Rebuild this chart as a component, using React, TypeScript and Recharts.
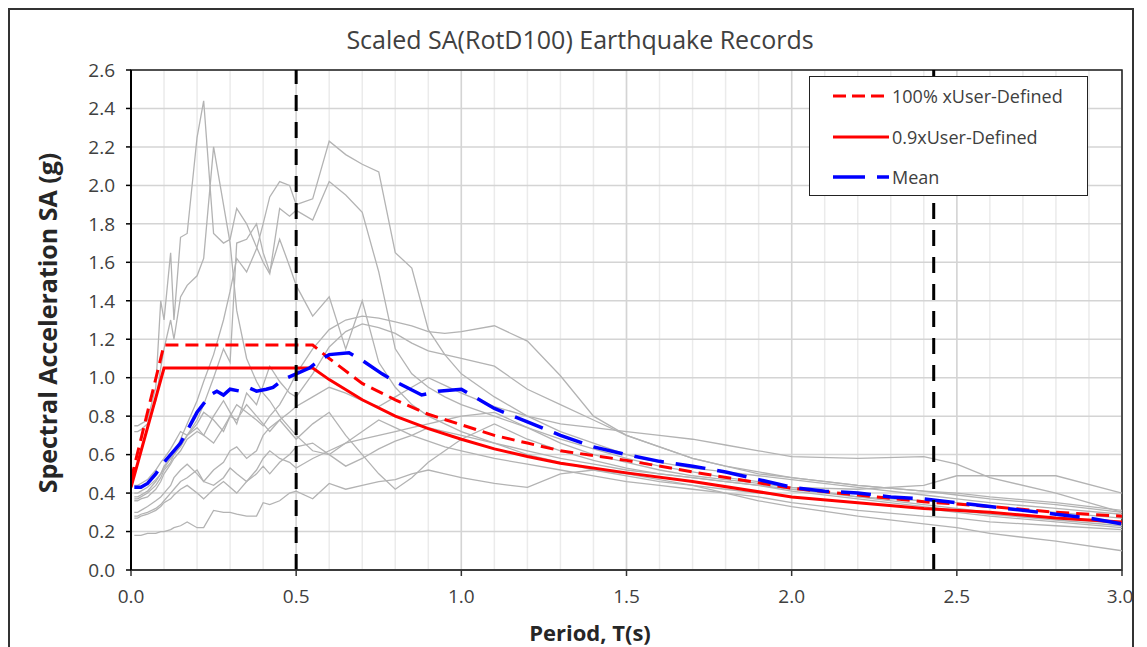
import React from 'react';
import { LineChart, Line, XAxis, YAxis, CartesianGrid, ReferenceLine, ReferenceArea, Legend } from 'recharts';

// Periods (s) shared by the scaled records
const periods = [
  0.01, 0.02, 0.03, 0.05, 0.075, 0.09, 0.1, 0.12, 0.13, 0.15,
  0.17, 0.2, 0.22, 0.25, 0.28, 0.3, 0.32, 0.35, 0.38, 0.4,
  0.42, 0.45, 0.48, 0.5, 0.55, 0.6, 0.65, 0.7, 0.75, 0.8,
  0.85, 0.9, 0.95, 1.0, 1.1, 1.2, 1.3, 1.4, 1.5, 1.6,
  1.7, 1.8, 1.9, 2.0, 2.2, 2.4, 2.5, 2.6, 2.8, 3.0,
];

// Scaled SA(RotD100) of each record (g)
const rec01 = [
  0.75, 0.75, 0.76, 0.78, 0.95, 1.40, 1.30, 1.65, 1.30, 1.73,
  1.75, 2.25, 2.44, 1.75, 1.70, 1.72, 1.88, 1.80, 1.68, 1.60,
  1.54, 1.88, 1.84, 1.87, 1.82, 2.02, 1.95, 1.86, 1.55, 1.15,
  1.02, 0.95, 0.90, 0.86, 0.80, 0.74, 0.68, 0.63, 0.58, 0.54,
  0.51, 0.48, 0.46, 0.43, 0.38, 0.34, 0.32, 0.30, 0.27, 0.24,
];
const rec02 = [
  0.72, 0.72, 0.73, 0.76, 0.88, 1.05, 1.15, 1.30, 1.20, 1.42,
  1.48, 1.53, 1.62, 2.20, 1.90, 1.70, 1.35, 1.10, 0.98, 0.92,
  0.88, 0.80, 0.74, 0.70, 0.62, 0.60, 0.66, 0.72, 0.78, 0.74,
  0.70, 0.67, 0.64, 0.62, 0.58, 0.55, 0.52, 0.49, 0.46, 0.44,
  0.42, 0.40, 0.38, 0.35, 0.31, 0.28, 0.27, 0.25, 0.23, 0.21,
];
const rec03 = [
  0.38, 0.38, 0.39, 0.41, 0.46, 0.50, 0.53, 0.58, 0.60, 0.68,
  0.76, 0.88, 0.98, 1.12, 1.30, 1.45, 1.62, 1.55, 1.67, 1.80,
  1.94, 2.02, 2.00, 1.90, 1.93, 2.23, 2.16, 2.11, 2.07, 1.65,
  1.57, 1.25, 1.12, 1.02, 0.90, 0.80, 0.72, 0.66, 0.60, 0.56,
  0.53, 0.51, 0.49, 0.47, 0.43, 0.39, 0.37, 0.35, 0.32, 0.29,
];
const rec04 = [
  0.37, 0.37, 0.38, 0.40, 0.44, 0.48, 0.52, 0.56, 0.60, 0.64,
  0.70, 0.78, 0.86, 1.00, 1.15, 1.08, 1.70, 1.72, 1.80, 1.65,
  1.55, 1.72, 1.58, 1.48, 1.32, 1.42, 1.15, 1.40, 1.08, 0.95,
  0.86, 0.80, 0.76, 0.72, 0.66, 0.60, 0.56, 0.52, 0.49, 0.46,
  0.44, 0.42, 0.40, 0.38, 0.35, 0.32, 0.30, 0.28, 0.25, 0.22,
];
const rec05 = [
  0.44, 0.44, 0.45, 0.47, 0.52, 0.56, 0.58, 0.63, 0.66, 0.72,
  0.70, 0.76, 0.82, 0.78, 0.72, 0.80, 0.86, 0.82, 0.78, 0.75,
  0.80, 0.86, 0.95, 1.02, 1.15, 1.25, 1.30, 1.32, 1.31, 1.29,
  1.27, 1.24, 1.23, 1.24, 1.27, 1.19, 1.01, 0.80, 0.70, 0.64,
  0.58, 0.54, 0.51, 0.48, 0.44, 0.41, 0.39, 0.37, 0.34, 0.30,
];
const rec06 = [
  0.36, 0.36, 0.37, 0.38, 0.42, 0.46, 0.50, 0.55, 0.58, 0.62,
  0.68, 0.72, 0.70, 0.80, 0.88, 0.82, 0.76, 0.92, 0.86, 0.96,
  1.06, 0.98, 0.92, 0.90, 1.02, 1.16, 1.24, 1.28, 1.26, 1.23,
  1.18, 1.14, 1.12, 1.10, 1.06, 0.94, 0.86, 0.78, 0.70, 0.64,
  0.58, 0.54, 0.50, 0.48, 0.44, 0.41, 0.40, 0.38, 0.35, 0.31,
];
const rec07 = [
  0.30, 0.30, 0.31, 0.33, 0.36, 0.38, 0.40, 0.44, 0.48, 0.52,
  0.55, 0.50, 0.46, 0.52, 0.56, 0.62, 0.64, 0.58, 0.62, 0.70,
  0.74, 0.78, 0.72, 0.68, 0.76, 0.82, 0.70, 0.60, 0.50, 0.42,
  0.48, 0.56, 0.62, 0.68, 0.76, 0.68, 0.62, 0.57, 0.53, 0.50,
  0.48, 0.46, 0.44, 0.42, 0.38, 0.36, 0.35, 0.33, 0.30, 0.27,
];
const rec08 = [
  0.28, 0.28, 0.29, 0.30, 0.32, 0.34, 0.36, 0.40, 0.42, 0.46,
  0.48, 0.52, 0.46, 0.44, 0.48, 0.53, 0.50, 0.46, 0.52, 0.58,
  0.62, 0.58, 0.56, 0.53, 0.58, 0.62, 0.66, 0.68, 0.70, 0.72,
  0.74, 0.76, 0.78, 0.80, 0.82, 0.74, 0.66, 0.60, 0.56, 0.52,
  0.49, 0.47, 0.45, 0.43, 0.42, 0.44, 0.49, 0.49, 0.49, 0.40,
];
const rec09 = [
  0.27, 0.27, 0.28, 0.29, 0.31, 0.33, 0.35, 0.37, 0.39, 0.42,
  0.44, 0.40, 0.37, 0.42, 0.46, 0.43, 0.40, 0.46, 0.50, 0.54,
  0.50, 0.56, 0.60, 0.64, 0.66, 0.60, 0.54, 0.58, 0.63, 0.67,
  0.70, 0.74, 0.72, 0.70, 0.66, 0.62, 0.58, 0.55, 0.52, 0.50,
  0.48, 0.46, 0.44, 0.41, 0.37, 0.33, 0.31, 0.29, 0.26, 0.23,
];
const rec10 = [
  0.18, 0.18, 0.18, 0.19, 0.19, 0.20, 0.20, 0.21, 0.22, 0.23,
  0.25, 0.22, 0.22, 0.31, 0.30, 0.30, 0.29, 0.28, 0.28, 0.35,
  0.34, 0.36, 0.40, 0.41, 0.37, 0.45, 0.42, 0.44, 0.46, 0.47,
  0.50, 0.52, 0.50, 0.48, 0.45, 0.43, 0.50, 0.52, 0.50, 0.47,
  0.44, 0.40, 0.36, 0.33, 0.28, 0.24, 0.22, 0.19, 0.15, 0.10,
];
const rec11 = [
  0.40, 0.40, 0.41, 0.43, 0.47, 0.50, 0.54, 0.58, 0.60, 0.65,
  0.70, 0.74, 0.70, 0.66, 0.74, 0.80, 0.78, 0.86, 0.80, 0.76,
  0.72, 0.78, 0.82, 0.85, 0.90, 0.95, 0.92, 0.88, 0.85, 0.90,
  0.95, 1.00, 0.96, 0.92, 0.85, 0.80, 0.76, 0.74, 0.72, 0.70,
  0.68, 0.65, 0.62, 0.59, 0.58, 0.59, 0.55, 0.48, 0.40, 0.30,
];
const records = [rec01, rec02, rec03, rec04, rec05, rec06, rec07, rec08, rec09, rec10, rec11];

// Target spectra
const designT = [0, 0.1, 0.55, 0.6, 0.7, 0.8, 0.9, 1.0, 1.1, 1.2, 1.3, 1.5, 1.7, 2.0, 2.2, 2.4, 2.6, 2.8, 3.0];
const target100 = [0.47, 1.17, 1.17, 1.10, 0.97, 0.885, 0.81, 0.755, 0.70, 0.66, 0.62, 0.57, 0.51, 0.425, 0.39, 0.355, 0.33, 0.30, 0.28];
const target90 = [0.43, 1.05, 1.05, 0.99, 0.885, 0.80, 0.735, 0.68, 0.63, 0.59, 0.555, 0.505, 0.46, 0.38, 0.35, 0.32, 0.30, 0.27, 0.25];

// Mean of scaled records
const meanT = [0.01, 0.03, 0.05, 0.075, 0.1, 0.15, 0.2, 0.24, 0.26, 0.28, 0.3, 0.33, 0.36, 0.38, 0.41, 0.43, 0.46, 0.5, 0.54, 0.57, 0.6, 0.66, 0.7, 0.76, 0.8, 0.88, 0.93, 1.0, 1.06, 1.1, 1.2, 1.3, 1.4, 1.5, 1.6, 1.7, 1.8, 1.9, 2.0, 2.1, 2.2, 2.3, 2.4, 2.5, 2.6, 2.7, 2.8, 2.9, 3.0];
const meanSA = [0.43, 0.43, 0.45, 0.50, 0.56, 0.66, 0.82, 0.91, 0.93, 0.91, 0.94, 0.93, 0.945, 0.93, 0.94, 0.95, 0.99, 1.02, 1.05, 1.09, 1.12, 1.13, 1.09, 1.02, 0.98, 0.91, 0.93, 0.94, 0.88, 0.84, 0.77, 0.70, 0.64, 0.60, 0.565, 0.54, 0.51, 0.47, 0.43, 0.41, 0.40, 0.38, 0.37, 0.35, 0.33, 0.31, 0.29, 0.27, 0.24];

const periodLimits = [0.5, 2.43];
const xTicks = [0, 0.5, 1.0, 1.5, 2.0, 2.5, 3.0];
const xMinorTicks = [0, 0.1, 0.2, 0.3, 0.4, 0.5, 0.6, 0.7, 0.8, 0.9, 1.0, 1.1, 1.2, 1.3, 1.4, 1.5, 1.6, 1.7, 1.8, 1.9, 2.0, 2.1, 2.2, 2.3, 2.4, 2.5, 2.6, 2.7, 2.8, 2.9, 3.0];
const yTicks = [0, 0.2, 0.4, 0.6, 0.8, 1.0, 1.2, 1.4, 1.6, 1.8, 2.0, 2.2, 2.4, 2.6];

const titleText = 'Scaled SA(RotD100) Earthquake Records';
const xTitle = 'Period, T(s)';
const yTitle = 'Spectral Acceleration SA (g)';
const legendLabels = ['100% xUser-Defined', '0.9xUser-Defined', 'Mean'];

const rows = periods.map((T, i) => {
  const row: Record<string, number> = { T };
  records.forEach((r, k) => { row['r' + (k + 1)] = r[i]; });
  return row;
});
const target100Data = designT.map((T, i) => ({ T, v: target100[i] }));
const target90Data = designT.map((T, i) => ({ T, v: target90[i] }));
const meanData = meanT.map((T, i) => ({ T, v: meanSA[i] }));

const FONT = '"Open Sans", "DejaVu Sans", sans-serif';
const TEXT = '#404040';

const legendStyles = [
  { color: '#ff0000', dash: '13 6', width: 3 },
  { color: '#ff0000', dash: undefined, width: 3 },
  { color: '#0000ff', dash: '32 12', width: 3.5 },
];

const renderLegend = () => (
  <div style={{ position: 'relative', width: 279, height: 120, boxSizing: 'border-box', border: '1.5px solid #222', background: '#fff', fontFamily: FONT }}>
    {legendLabels.map((label, i) => (
      <div key={label} style={{ position: 'absolute', left: 22, top: [7, 48, 88][i], height: 24, display: 'flex', alignItems: 'center' }}>
        <svg width={58} height={8} style={{ display: 'block' }}>
          <line x1={1} y1={4} x2={57} y2={4} stroke={legendStyles[i].color} strokeWidth={legendStyles[i].width} strokeDasharray={legendStyles[i].dash} />
        </svg>
        <span style={{ marginLeft: 2, fontSize: 18, color: TEXT, whiteSpace: 'nowrap' }}>{label}</span>
      </div>
    ))}
  </div>
);

export default function App() {
  return (
    <div style={{ position: 'relative', width: 1122, height: 676, border: '2px solid #333', background: '#fff', fontFamily: FONT }}>
      <div style={{ position: 'absolute', left: 570, top: 13, transform: 'translateX(-50%)', fontSize: 25, lineHeight: '32px', color: TEXT, whiteSpace: 'nowrap' }}>
        {titleText}
      </div>
      <div style={{ position: 'absolute', left: 37 - 220, top: 313 - 17, width: 440, height: 34, lineHeight: '34px', textAlign: 'center', transform: 'rotate(-90deg)', fontSize: 25, fontWeight: 700, color: '#262626', whiteSpace: 'nowrap' }}>
        {yTitle}
      </div>
      <div style={{ position: 'absolute', left: 580, top: 607, transform: 'translateX(-50%)', fontSize: 22, lineHeight: '30px', fontWeight: 700, color: '#262626', whiteSpace: 'nowrap' }}>
        {xTitle}
      </div>
      <LineChart width={1122} height={676} data={rows} margin={{ top: 60, right: 10, left: 61, bottom: 86 }}>
        <XAxis xAxisId="minor" dataKey="T" type="number" domain={[0, 3]} ticks={xMinorTicks} hide />
        <CartesianGrid xAxisId="minor" horizontal={false} stroke="#ebebeb" strokeWidth={1.5} />
        <CartesianGrid stroke="#d4d4d4" strokeWidth={1.5} />
        <XAxis
          dataKey="T"
          type="number"
          domain={[0, 3]}
          ticks={xTicks}
          tickFormatter={(v: number) => v.toFixed(1)}
          tick={{ fontSize: 19, fill: TEXT, fontFamily: FONT }}
          tickSize={6}
          tickMargin={14}
          axisLine={{ stroke: '#333', strokeWidth: 1.5 }}
          tickLine={{ stroke: '#333', strokeWidth: 1.5 }}
          height={30}
          allowDataOverflow
        />
        <YAxis
          type="number"
          domain={[0, 2.6]}
          ticks={yTicks}
          tickFormatter={(v: number) => v.toFixed(1)}
          tick={{ fontSize: 19, fill: TEXT, fontFamily: FONT }}
          tickSize={5}
          tickMargin={11}
          axisLine={{ stroke: '#000', strokeWidth: 2 }}
          tickLine={{ stroke: '#000', strokeWidth: 1.5 }}
          width={60}
          allowDataOverflow
        />
        <ReferenceArea x1={0} x2={3} y1={0} y2={2.6} fill="none" stroke="#222" strokeWidth={1.5} />
        {records.map((_, k) => (
          <Line key={k} dataKey={'r' + (k + 1)} type="linear" stroke="#b3b3b3" strokeWidth={1.3} dot={false} isAnimationActive={false} legendType="none" />
        ))}
        <Line data={target90Data} dataKey="v" type="linear" stroke="#ff0000" strokeWidth={3} dot={false} isAnimationActive={false} />
        <Line data={target100Data} dataKey="v" type="linear" stroke="#ff0000" strokeWidth={3} strokeDasharray="13 7" dot={false} isAnimationActive={false} />
        <Line data={meanData} dataKey="v" type="linear" stroke="#0000ff" strokeWidth={3.5} strokeDasharray="30 12" dot={false} isAnimationActive={false} />
        {periodLimits.map((x) => (
          <ReferenceLine key={x} x={x} stroke="#000" strokeWidth={3} strokeDasharray="16 11" />
        ))}
        <Legend layout="vertical" align="center" verticalAlign="middle" content={renderLegend} wrapperStyle={{ position: 'absolute', left: 799, top: 66, width: 279, height: 120 }} />
      </LineChart>
    </div>
  );
}
